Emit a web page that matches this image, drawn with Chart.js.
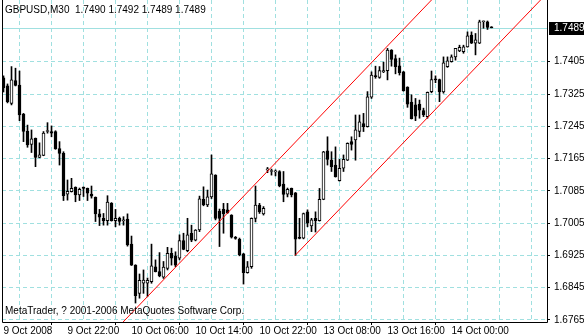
<!DOCTYPE html>
<html><head><meta charset="utf-8">
<script src="https://cdn.jsdelivr.net/npm/chart.js@4.4.1/dist/chart.umd.min.js"></script>
<style>html,body{margin:0;padding:0;background:#fff;overflow:hidden}canvas{display:block}</style>
</head><body>
<canvas id="c" width="584" height="336"></canvas>
<script>
// ---- data ----
const symbolTitle = 'GBPUSD,M30';
const lastBarText = ['1.7490', '1.7492', '1.7489', '1.7489'];
const copyright = 'MetaTrader, ? 2001-2006 MetaQuotes Software Corp.';

const opens = [
1.7365,1.7345,1.7302,1.7358,1.7347,1.7275,1.7233,1.7200,1.7215,1.7168,
1.7173,1.7232,1.7232,1.7232,1.7190,1.7178,1.7077,1.7083,1.7094,1.7075,
1.7094,1.7091,1.7077,1.7069,1.7028,1.7017,1.7011,1.7054,1.7011,1.7017,
1.7011,1.7015,1.6953,1.6901,1.6831,1.6856,1.6856,1.6860,1.6897,1.6885,
1.6871,1.6893,1.6930,1.6924,1.6918,1.6962,1.6937,1.6980,1.6963,1.6988,
1.7064,1.7050,1.7070,1.7124,1.7035,1.7039,1.7038,1.7025,1.6970,1.6965,
1.6929,1.6882,1.6897,1.7017,1.7050,1.7028,1.7137,1.7133,1.7132,1.7133,
1.7102,1.7077,1.7091,1.7080,1.6970,1.6968,1.7033,1.6998,1.7017,1.7011,
1.7064,1.7184,1.7161,1.7149,1.7110,1.7141,1.7161,1.7207,1.7211,1.7232,
1.7252,1.7244,1.7317,1.7370,1.7366,1.7380,1.7383,1.7434,1.7413,1.7395,
1.7380,1.7342,1.7305,1.7298,1.7300,1.7284,1.7269,1.7331,1.7361,1.7361,
1.7330,1.7393,1.7405,1.7417,1.7432,1.7430,1.7442,1.7471,1.7451,1.7451,
1.7504,1.7504,1.7490];
const highs = [
1.7370,1.7350,1.7393,1.7389,1.7382,1.7277,1.7248,1.7236,1.7216,1.7204,
1.7232,1.7254,1.7246,1.7234,1.7207,1.7182,1.7112,1.7116,1.7095,1.7092,
1.7095,1.7092,1.7097,1.7070,1.7039,1.7029,1.7073,1.7056,1.7039,1.7020,
1.7021,1.7028,1.6973,1.6902,1.6879,1.6889,1.6869,1.6953,1.6914,1.6932,
1.6910,1.6945,1.6943,1.6934,1.6976,1.6980,1.7017,1.7000,1.6989,1.7072,
1.7095,1.7087,1.7174,1.7125,1.7040,1.7054,1.7054,1.7026,1.6972,1.6968,
1.6930,1.6910,1.7018,1.7097,1.7054,1.7046,1.7143,1.7139,1.7137,1.7135,
1.7133,1.7092,1.7092,1.7081,1.7017,1.7030,1.7038,1.7017,1.7033,1.7091,
1.7183,1.7219,1.7182,1.7194,1.7163,1.7174,1.7204,1.7219,1.7273,1.7273,
1.7277,1.7331,1.7380,1.7394,1.7393,1.7404,1.7438,1.7435,1.7422,1.7414,
1.7381,1.7343,1.7323,1.7314,1.7310,1.7290,1.7330,1.7382,1.7370,1.7362,
1.7417,1.7417,1.7422,1.7438,1.7446,1.7446,1.7479,1.7479,1.7475,1.7508,
1.7506,1.7506,1.7492];
const lows = [
1.7330,1.7303,1.7298,1.7345,1.7259,1.7207,1.7193,1.7180,1.7145,1.7167,
1.7172,1.7228,1.7219,1.7188,1.7149,1.7061,1.7062,1.7082,1.7058,1.7061,
1.7071,1.7061,1.7067,1.7009,1.6999,1.7000,1.7000,1.7010,1.6996,1.7000,
1.7000,1.6948,1.6900,1.6807,1.6819,1.6831,1.6823,1.6856,1.6884,1.6872,
1.6868,1.6889,1.6901,1.6897,1.6914,1.6939,1.6934,1.6959,1.6961,1.6984,
1.7048,1.7046,1.7066,1.7013,1.6947,1.6980,1.7029,1.6968,1.6965,1.6924,
1.6854,1.6881,1.6893,1.7008,1.7029,1.7025,1.7130,1.7124,1.7122,1.7095,
1.7058,1.7070,1.7070,1.6925,1.6966,1.6966,1.6996,1.6984,1.6983,1.7010,
1.7063,1.7149,1.7133,1.7119,1.7109,1.7133,1.7160,1.7186,1.7161,1.7219,
1.7232,1.7243,1.7314,1.7364,1.7364,1.7378,1.7360,1.7394,1.7375,1.7372,
1.7332,1.7292,1.7263,1.7259,1.7265,1.7269,1.7265,1.7328,1.7353,1.7306,
1.7327,1.7391,1.7404,1.7409,1.7430,1.7426,1.7441,1.7450,1.7422,1.7450,
1.7488,1.7485,1.7489];
const closes = [
1.7340,1.7306,1.7360,1.7346,1.7273,1.7232,1.7199,1.7214,1.7168,1.7174,
1.7228,1.7233,1.7228,1.7189,1.7178,1.7073,1.7084,1.7091,1.7075,1.7089,
1.7091,1.7079,1.7072,1.7028,1.7020,1.7011,1.7057,1.7011,1.7017,1.7009,
1.7012,1.6951,1.6901,1.6825,1.6863,1.6864,1.6863,1.6899,1.6885,1.6874,
1.6896,1.6930,1.6918,1.6901,1.6962,1.6940,1.6976,1.6963,1.6988,1.7065,
1.7050,1.7070,1.7127,1.7017,1.7017,1.7028,1.7031,1.6970,1.6967,1.6926,
1.6882,1.6897,1.7017,1.7050,1.7033,1.7042,1.7137,1.7133,1.7132,1.7097,
1.7076,1.7089,1.7075,1.6965,1.6967,1.7029,1.7005,1.7013,1.7011,1.7064,
1.7182,1.7163,1.7145,1.7120,1.7141,1.7163,1.7203,1.7200,1.7236,1.7256,
1.7244,1.7318,1.7372,1.7368,1.7383,1.7383,1.7434,1.7411,1.7393,1.7378,
1.7333,1.7300,1.7264,1.7270,1.7285,1.7273,1.7329,1.7361,1.7360,1.7330,
1.7402,1.7407,1.7417,1.7438,1.7441,1.7442,1.7469,1.7451,1.7459,1.7504,
1.7505,1.7490,1.7489];

const xTickBars = [0, 16, 32, 48, 64, 80, 96, 112];
const xTickLabels = ['9 Oct 2008', '9 Oct 22:00', '10 Oct 06:00', '10 Oct 14:00',
                     '10 Oct 22:00', '13 Oct 08:00', '13 Oct 16:00', '14 Oct 00:00'];
const yTickValues = [1.6765, 1.6845, 1.6925, 1.7005, 1.7085, 1.7165, 1.7245, 1.7325, 1.7405];
const currentPrice = 1.7489;
const channelUpper = [{x: 29.9, y: 1.6760}, {x: 110, y: 1.7589}];
const channelLower = [{x: 72.9, y: 1.6925}, {x: 136.5, y: 1.7581}];

// ---- styles ----
const GRID = '#a0e0e0';
const FONT = 'Liberation Sans';
Chart.defaults.font.family = FONT;
Chart.defaults.font.size = 10;
Chart.defaults.color = '#000';

const decor = {
  id: 'decor',
  beforeDatasetsDraw(chart) {
    const {ctx, chartArea: a, scales: {y}} = chart;
    const py = Math.round(y.getPixelForValue(currentPrice)) + 0.5;
    ctx.save();
    ctx.strokeStyle = GRID; ctx.lineWidth = 1;
    ctx.beginPath(); ctx.moveTo(a.left, py); ctx.lineTo(a.right, py); ctx.stroke();
    ctx.restore();
  },
  afterDraw(chart) {
    const {ctx, chartArea: a, scales: {y}} = chart;
    ctx.save();
    ctx.strokeStyle = '#000'; ctx.lineWidth = 1;
    ctx.beginPath();
    ctx.moveTo(a.left + 0.5, 0); ctx.lineTo(a.left + 0.5, a.bottom + 0.5);
    ctx.lineTo(a.right + 0.5, a.bottom + 0.5); ctx.lineTo(a.right + 0.5, 0);
    ctx.stroke();
    const py = Math.round(y.getPixelForValue(currentPrice));
    ctx.fillStyle = '#000';
    ctx.fillRect(a.right + 2, py - 6, 37, 13);
    ctx.fillStyle = '#fff';
    ctx.font = '10px "' + FONT + '"';
    ctx.textBaseline = 'middle'; ctx.textAlign = 'left';
    ctx.fillText(currentPrice.toFixed(4), a.right + 7, py + 0.5);
    ctx.fillStyle = '#000';
    ctx.textBaseline = 'alphabetic';
    ctx.fillText(symbolTitle + '  ' + lastBarText.join(' '), a.left + 3, 13);
    ctx.fillText(copyright, a.left + 3, 314);
    ctx.restore();
  }
};

new Chart(document.getElementById('c'), {
  type: 'bar',
  data: {
    datasets: [
      { type: 'line', data: channelUpper, borderColor: '#ff0000', backgroundColor: '#ff0000',
        borderWidth: 1, pointRadius: 0, tension: 0, fill: false, order: 0 },
      { type: 'line', data: channelLower, borderColor: '#ff0000', backgroundColor: '#ff0000',
        borderWidth: 1, pointRadius: 0, tension: 0, fill: false, order: 0 },
      { data: opens.map((o, i) => ({x: i, y: [o, closes[i]]})),
        backgroundColor: c => closes[c.dataIndex] >= opens[c.dataIndex] ? '#ffffff' : '#000000',
        borderColor: '#000', borderWidth: 1, borderSkipped: false,
        barThickness: 3, grouped: false, minBarLength: 1, order: 1 },
      { data: lows.map((l, i) => ({x: i, y: [l, highs[i]]})),
        backgroundColor: '#000', borderWidth: 0, barThickness: 1,
        grouped: false, minBarLength: 1, order: 2 }
    ]
  },
  options: {
    responsive: false, animation: false,
    layout: {padding: {left: 2, top: 0, right: 0, bottom: 0}},
    plugins: {legend: {display: false}, tooltip: {enabled: false}, title: {display: false}},
    scales: {
      x: {
        type: 'linear', min: -0.375, max: 135.875, offset: false,
        afterBuildTicks: s => { const t = []; for (let v = 0; v <= 128; v += 8) t.push({value: v}); s.ticks = t; },
        afterFit: s => { s.height = 14; s.paddingLeft = 0; s.paddingRight = 0; s.paddingTop = 0; s.paddingBottom = 0; },
        ticks: {
          autoSkip: false, maxRotation: 0, minRotation: 0, align: 'start', padding: 0,
          callback: v => { const k = xTickBars.indexOf(v); return k >= 0 ? xTickLabels[k] : ''; }
        },
        grid: {
          color: c => (c.tick && c.tick.value === 0) ? 'rgba(0,0,0,0)' : GRID,
          tickColor: c => (c.tick && xTickBars.includes(c.tick.value)) ? '#000' : 'rgba(0,0,0,0)',
          tickLength: 3, lineWidth: 1
        },
        border: {display: false, dash: [4, 3]}
      },
      y: {
        type: 'linear', position: 'right', min: 1.6760, max: 1.7558,
        afterBuildTicks: s => { s.ticks = yTickValues.map(v => ({value: v})); },
        afterFit: s => { s.width = 37; s.paddingTop = 0; s.paddingBottom = 0; s.paddingLeft = 0; s.paddingRight = 0; },
        ticks: { padding: 4, callback: v => Number(v).toFixed(4) },
        grid: { color: GRID, tickColor: '#000', tickLength: 3, lineWidth: 1 },
        border: {display: false, dash: [4, 3]}
      }
    }
  },
  plugins: [decor]
});
</script>
</body></html>
